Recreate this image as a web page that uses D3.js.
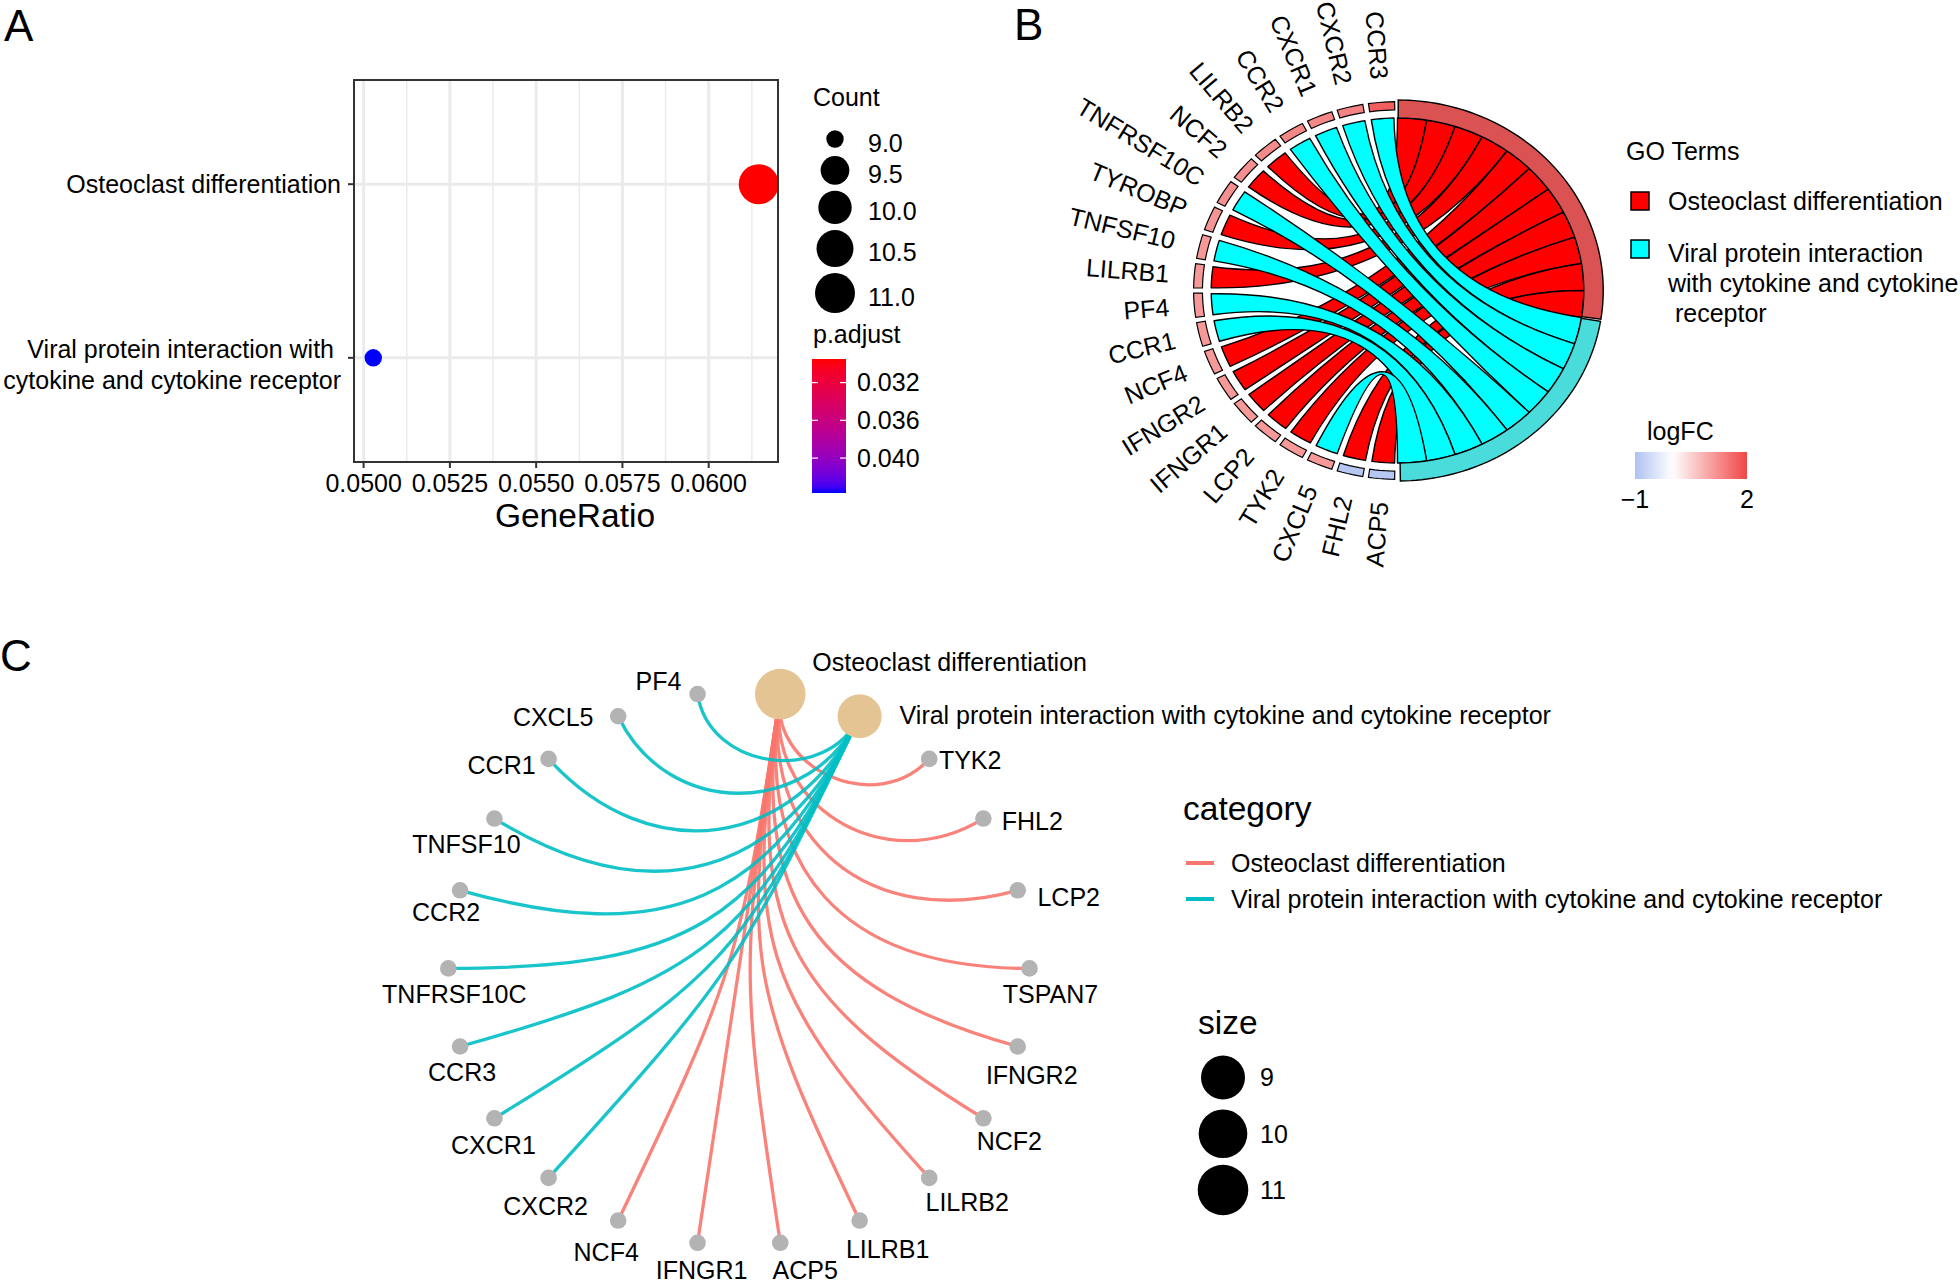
<!DOCTYPE html>
<html><head><meta charset="utf-8">
<script src="https://cdn.jsdelivr.net/npm/d3@7"></script>
<style>
body{margin:0;background:#fff}
svg{display:block}
text{font-family:"Liberation Sans",Arial,sans-serif;fill:#000}
</style>
</head><body>
<svg id="fig" width="1960" height="1286"></svg>
<script>
// ===================== DATA =====================
// Panel A (KEGG dot plot)
const termNames = ["Osteoclast differentiation", "Viral protein interaction with cytokine and cytokine receptor"];
const termLabelLines = [["Osteoclast differentiation"], ["Viral protein interaction with", "cytokine and cytokine receptor"]];
const geneRatios = [0.06145, 0.05028];
const termCounts = [11, 9];
const termPadj = [0.0295, 0.0437];
const ratioTicks = [0.0500, 0.0525, 0.0550, 0.0575, 0.0600];
const ratioTickLabels = ["0.0500", "0.0525", "0.0550", "0.0575", "0.0600"];
const countLegendValues = [9.0, 9.5, 10.0, 10.5, 11.0];
const countLegendLabels = ["9.0", "9.5", "10.0", "10.5", "11.0"];
const padjTicks = [0.032, 0.036, 0.040];
const padjTickLabels = ["0.032", "0.036", "0.040"];

// Panel B (GO chord)
const chordGenes = ["CCR3","CXCR2","CXCR1","CCR2","LILRB2","NCF2","TNFRSF10C","TYROBP","TNFSF10","LILRB1","PF4","CCR1","NCF4","IFNGR2","IFNGR1","LCP2","TYK2","CXCL5","FHL2","ACP5"];
const chordGeneTerm = [1,1,1,1,0,0,1,0,1,0,1,1,0,0,0,0,0,1,0,0]; // 0 = Osteoclast, 1 = Viral
const chordLogFC = [1.75,1.35,1.3,1.3,1.25,1.2,1.2,1.15,1.1,1.1,1.1,1.1,1.1,1.1,1.1,1.1,1.1,1.1,-0.9,-0.9];
const chordTermLegend = ["Osteoclast differentiation", "Viral protein interaction", "with cytokine and cytokine", " receptor"];
const lfcLegendTicks = [-1, 2];

// Panel C (cnetplot, circular layout order)
const cnetNodes = ["Osteoclast differentiation","Viral protein interaction with cytokine and cytokine receptor",
  "TYK2","FHL2","LCP2","TSPAN7","IFNGR2","NCF2","LILRB2","LILRB1","ACP5","IFNGR1","NCF4",
  "CXCR2","CXCR1","CCR3","TNFRSF10C","CCR2","TNFSF10","CCR1","CXCL5","PF4"];
const osteoGenes = ["TYK2","FHL2","LCP2","TSPAN7","IFNGR2","NCF2","LILRB2","LILRB1","ACP5","IFNGR1","NCF4"];
const viralGenes = ["PF4","CXCL5","CCR1","TNFSF10","CCR2","TNFRSF10C","CCR3","CXCR1","CXCR2"];
const hubSizes = [11, 9];
const sizeLegendValues = [9, 10, 11];
const categoryLegend = ["Osteoclast differentiation", "Viral protein interaction with cytokine and cytokine receptor"];

// ===================== LAYOUT / STYLE =====================
const FONT = 25;
const TITLE = 33.5;
const svg = d3.select("#fig");
const defs = svg.append("defs");

svg.append("text").attr("x", 4).attr("y", 41).attr("font-size", 44).text("A");
svg.append("text").attr("x", 1014).attr("y", 40).attr("font-size", 44).text("B");
svg.append("text").attr("x", 0).attr("y", 671).attr("font-size", 44).text("C");

// ---------------- Panel A ----------------
(function panelA(){
  const P = {x0:354, x1:778, y0:80, y1:462};
  const ext = d3.extent(geneRatios), pad = (ext[1]-ext[0])*0.05;
  const x = d3.scaleLinear().domain([ext[0]-pad, ext[1]+pad]).range([P.x0, P.x1]);
  const y = d3.scalePoint().domain(termNames).range([P.y0, P.y1]).padding(0.6);
  const col = d3.scaleLinear().domain(d3.extent(termPadj)).range(["#FF0000","#0000FF"]).interpolate(d3.interpolateLab);
  const tScale = d3.scaleLinear().domain([9, 11]).range([0, 1]);
  const rCount = v => (17.4 + 22.6*Math.sqrt(Math.max(0, tScale(v))))/2;

  const g = svg.append("g");
  g.append("rect").attr("x",P.x0).attr("y",P.y0).attr("width",P.x1-P.x0).attr("height",P.y1-P.y0).attr("fill","#fff");
  const step = ratioTicks[1]-ratioTicks[0];
  const minor = [];
  for (let i=-1;i<ratioTicks.length;i++){ const v = ratioTicks[0]+step*(i+0.5); const [a,b]=x.domain(); if(v>a&&v<b) minor.push(v); }
  g.selectAll(".minor").data(minor).join("line").attr("x1",d=>x(d)).attr("x2",d=>x(d)).attr("y1",P.y0).attr("y2",P.y1)
    .attr("stroke","#EBEBEB").attr("stroke-width",1.5);
  g.selectAll(".major").data(ratioTicks).join("line").attr("x1",d=>x(d)).attr("x2",d=>x(d)).attr("y1",P.y0).attr("y2",P.y1)
    .attr("stroke","#EBEBEB").attr("stroke-width",3);
  g.selectAll(".hmajor").data(termNames).join("line").attr("x1",P.x0).attr("x2",P.x1).attr("y1",d=>y(d)).attr("y2",d=>y(d))
    .attr("stroke","#EBEBEB").attr("stroke-width",3);
  g.selectAll(".pt").data(termNames).join("circle")
    .attr("cx",(d,i)=>x(geneRatios[i])).attr("cy",d=>y(d)).attr("r",(d,i)=>rCount(termCounts[i]))
    .attr("fill",(d,i)=>col(termPadj[i]));
  g.append("rect").attr("x",P.x0).attr("y",P.y0).attr("width",P.x1-P.x0).attr("height",P.y1-P.y0)
    .attr("fill","none").attr("stroke","#333").attr("stroke-width",2);
  g.selectAll(".xt").data(ratioTicks).join("line").attr("x1",d=>x(d)).attr("x2",d=>x(d)).attr("y1",P.y1).attr("y2",P.y1+6)
    .attr("stroke","#333").attr("stroke-width",2);
  g.selectAll(".xl").data(ratioTicks).join("text").attr("x",d=>x(d)).attr("y",492).attr("text-anchor","middle")
    .attr("font-size",FONT).attr("fill","#1a1a1a").text((d,i)=>ratioTickLabels[i]);
  g.append("text").attr("x",575).attr("y",527).attr("text-anchor","middle").attr("font-size",TITLE).text("GeneRatio");
  g.selectAll(".yt").data(termNames).join("line").attr("x1",P.x0-6).attr("x2",P.x0).attr("y1",d=>y(d)).attr("y2",d=>y(d))
    .attr("stroke","#333").attr("stroke-width",2);
  termNames.forEach((t,i)=>{
    const lines = termLabelLines[i];
    const lh = 31, y0 = y(t) + 0.35*FONT - (lines.length-1)*lh/2 + (lines.length>1?7:0);
    lines.forEach((ln,j)=>{
      g.append("text").attr("x", (lines.length>1 && j===0) ? 334 : 341).attr("y", y0 + j*lh)
        .attr("text-anchor","end").attr("font-size",FONT).attr("fill","#1a1a1a").text(ln);
    });
  });
  // legend: Count
  g.append("text").attr("x",813).attr("y",106).attr("font-size",FONT).text("Count");
  let top = 125; const keys = [];
  countLegendValues.forEach(v=>{ const h = Math.max(2*rCount(v)+6, 28); keys.push(top+h/2); top += h; });
  g.selectAll(".ck").data(countLegendValues).join("circle").attr("cx",835).attr("cy",(d,i)=>keys[i]).attr("r",d=>rCount(d)).attr("fill","#000");
  g.selectAll(".cl").data(countLegendValues).join("text").attr("x",868).attr("y",(d,i)=>keys[i]+4+0.35*FONT)
    .attr("font-size",FONT).text((d,i)=>countLegendLabels[i]);
  // legend: p.adjust
  g.append("text").attr("x",813).attr("y",343).attr("font-size",FONT).text("p.adjust");
  const cb = {x:812, w:34, y0:359, y1:493};
  const grad = defs.append("linearGradient").attr("id","padjGrad").attr("x1",0).attr("x2",0).attr("y1",0).attr("y2",1);
  d3.range(0,1.0001,0.05).forEach(t=>{
    const v = termPadj[0] + t*(termPadj[1]-termPadj[0]);
    grad.append("stop").attr("offset",t).attr("stop-color",col(v));
  });
  g.append("rect").attr("x",cb.x).attr("y",cb.y0).attr("width",cb.w).attr("height",cb.y1-cb.y0).attr("fill","url(#padjGrad)");
  const yp = d3.scaleLinear().domain(d3.extent(termPadj)).range([cb.y0, cb.y1]);
  padjTicks.forEach(v=>{
    g.append("line").attr("x1",cb.x).attr("x2",cb.x+6).attr("y1",yp(v)).attr("y2",yp(v)).attr("stroke","#fff").attr("stroke-width",1.2);
    g.append("line").attr("x1",cb.x+cb.w-6).attr("x2",cb.x+cb.w).attr("y1",yp(v)).attr("y2",yp(v)).attr("stroke","#fff").attr("stroke-width",1.2);
  });
  g.selectAll(".pl").data(padjTicks).join("text").attr("x",857).attr("y",d=>yp(d)+0.35*FONT).attr("font-size",FONT)
    .text((d,i)=>padjTickLabels[i]);
})();

// ---------------- Panel B ----------------
(function panelB(){
  const B = {cx:1397.5, cy:290.5, sx:1.08, rTermOut:190.5, rTermIn:172.5, rGeneOut:188.8, rGeneIn:180.6, rRib:172.5, rLab:212};
  const n = chordGenes.length;
  const geneAng = d3.scaleLinear().domain([0, n]).range([90, 270]);
  const termAng = d3.scaleLinear().domain([0, n]).range([90, -90]);
  const lfcCol = d3.scaleLinear().domain([-1, 0, 2]).range(["#AEC1F2","#FFFFFF","#F04646"]);
  const termFill = ["#DB5252", "#4ADCDA"];
  const ribbonFill = ["#FF0000", "#00FFFF"];
  const rad = a => a*Math.PI/180;
  const pt = (r,a) => [B.cx + B.sx*r*Math.cos(rad(a)), B.cy - r*Math.sin(rad(a))];
  const arcPts = (r,a0,a1) => { const k = Math.max(2, Math.ceil(Math.abs(a1-a0)/1.5)); return d3.range(k+1).map(i=>pt(r, a0+(a1-a0)*i/k)); };
  function sector(r0,r1,a0,a1){
    const p = d3.path(); const o = arcPts(r1,a0,a1), inn = arcPts(r0,a1,a0);
    p.moveTo(...o[0]); o.slice(1).forEach(q=>p.lineTo(...q)); inn.forEach(q=>p.lineTo(...q)); p.closePath(); return p.toString();
  }
  function ribbon(g0,g1,t0,t1){
    const p = d3.path(); const s = arcPts(B.rRib,g0,g1), t = arcPts(B.rRib,t0,t1);
    p.moveTo(...s[0]); s.slice(1).forEach(q=>p.lineTo(...q));
    p.quadraticCurveTo(B.cx,B.cy,...t[0]); t.slice(1).forEach(q=>p.lineTo(...q));
    p.quadraticCurveTo(B.cx,B.cy,...s[0]); p.closePath(); return p.toString();
  }
  const order = [];
  [0,1].forEach(tm=>chordGenes.forEach((gname,i)=>{ if(chordGeneTerm[i]===tm) order.push(i); }));
  const slotOf = {}; order.forEach((gi,s)=>slotOf[gi]=s);
  const nOst = chordGeneTerm.filter(v=>v===0).length;
  const g = svg.append("g");
  [0,1].forEach(tm=>{
    chordGenes.forEach((gname,i)=>{
      if(chordGeneTerm[i]!==tm) return;
      const s = slotOf[i];
      const tHi = termAng(s), tLo = termAng(s+1);
      g.append("path").attr("d", ribbon(geneAng(i)+1.1, geneAng(i+1)-0.9, tLo, tHi))
        .attr("fill", ribbonFill[tm]).attr("stroke","#000").attr("stroke-width",1.4).attr("stroke-linejoin","round");
    });
  });
  chordGenes.forEach((gname,i)=>{
    g.append("path").attr("d", sector(B.rGeneIn,B.rGeneOut,geneAng(i)+0.8,geneAng(i+1)-0.8))
      .attr("fill", lfcCol(chordLogFC[i])).attr("stroke","#000").attr("stroke-width",1.2);
  });
  g.append("path").attr("d", sector(B.rTermIn,B.rTermOut,termAng(nOst)+0.3,termAng(0)-0.2))
    .attr("fill",termFill[0]).attr("stroke","#000").attr("stroke-width",1.4);
  g.append("path").attr("d", sector(B.rTermIn,B.rTermOut,termAng(n)+0.8,termAng(nOst)-0.3))
    .attr("fill",termFill[1]).attr("stroke","#000").attr("stroke-width",1.4);
  chordGenes.forEach((gname,i)=>{
    const a = (geneAng(i)+geneAng(i+1))/2; const [px,py] = pt(B.rLab, a);
    g.append("text").attr("transform",`translate(${px},${py}) rotate(${180-a})`).attr("text-anchor","end")
      .attr("dy","0.35em").attr("font-size",FONT).text(gname);
  });
  g.append("text").attr("x",1626).attr("y",160).attr("font-size",FONT).text("GO Terms");
  g.append("rect").attr("x",1631).attr("y",192).attr("width",18).attr("height",18).attr("fill",ribbonFill[0]).attr("stroke","#000").attr("stroke-width",1.5);
  g.append("rect").attr("x",1631).attr("y",240).attr("width",18).attr("height",18).attr("fill",ribbonFill[1]).attr("stroke","#000").attr("stroke-width",1.5);
  g.append("text").attr("x",1668).attr("y",210).attr("font-size",FONT).text(chordTermLegend[0]);
  [262,292,322].forEach((yy,j)=>{
    g.append("text").attr("x",1668).attr("y",yy).attr("font-size",FONT).attr("xml:space","preserve").text(chordTermLegend[j+1]);
  });
  g.append("text").attr("x",1647).attr("y",440).attr("font-size",FONT).text("logFC");
  const lx = d3.scaleLinear().domain(lfcLegendTicks).range([1635, 1747]);
  const lg = defs.append("linearGradient").attr("id","lfcGrad").attr("x1",0).attr("x2",1).attr("y1",0).attr("y2",0);
  d3.range(0,1.0001,0.05).forEach(t=>lg.append("stop").attr("offset",t).attr("stop-color",lfcCol(lx.invert(1635+t*112))));
  g.append("rect").attr("x",1635).attr("y",452).attr("width",112).attr("height",27).attr("fill","url(#lfcGrad)");
  g.selectAll(".lt").data(lfcLegendTicks).join("text").attr("x",d=>lx(d)).attr("y",508).attr("text-anchor","middle")
    .attr("font-size",FONT).text(d=>d<0?"\u2212"+Math.abs(d):String(d));
})();

// ---------------- Panel C ----------------
// label placement offsets (text centre x, baseline y) relative to each node, mimicking the ggrepel result
const cnetLabelNudge = {
  "PF4":[-39,-4], "CXCL5":[-65,10], "CCR1":[-47,15], "TNFSF10":[-28,34], "CCR2":[-14,31],
  "TNFRSF10C":[6,35], "CCR3":[2,35], "CXCR1":[-1,36], "CXCR2":[-3,37], "NCF4":[-12,40],
  "IFNGR1":[4,36], "ACP5":[25,36], "LILRB1":[28,37], "LILRB2":[38,33], "NCF2":[26,32],
  "IFNGR2":[14,38], "TSPAN7":[21,35], "LCP2":[51,16], "FHL2":[49,11], "TYK2":[41,10]
};
(function panelC(){
  const C = {cx:738.9, cy:968.4, rx:290.6, ry:277.2};
  const nN = cnetNodes.length;
  const ang = d3.scaleLinear().domain([-0.5, nN-0.5]).range([90, 90-360]);
  const xC = d3.scaleLinear().domain([-1,1]).range([C.cx-C.rx, C.cx+C.rx]);
  const yC = d3.scaleLinear().domain([-1,1]).range([C.cy+C.ry, C.cy-C.ry]);
  const unit = k => { const a = ang(k)*Math.PI/180; return [Math.cos(a), Math.sin(a)]; };
  const idx = name => cnetNodes.indexOf(name);
  const catColors = ["#F8766D", "#00BFC4"];
  const tS = d3.scaleLinear().domain([9, 11]).range([0, 1]);
  const rHub = v => 22 + 3.3*Math.sqrt(Math.max(0,tS(v)));
  function edge(kh, kg){
    const p0 = unit(kh), p3 = unit(kg);
    const dist = Math.hypot(p0[0]-p3[0], p0[1]-p3[1]);
    const rho = 1 - 0.49*dist;
    const p = d3.path();
    p.moveTo(xC(p0[0]), yC(p0[1]));
    p.bezierCurveTo(xC(p0[0]*rho), yC(p0[1]*rho), xC(p3[0]*rho), yC(p3[1]*rho), xC(p3[0]), yC(p3[1]));
    return p.toString();
  }
  const g = svg.append("g");
  [osteoGenes, viralGenes].forEach((lst,c)=>{
    lst.forEach(gn=>{
      g.append("path").attr("d", edge(c, idx(gn))).attr("fill","none").attr("stroke",catColors[c])
        .attr("stroke-width",3.3).attr("stroke-opacity",0.9);
    });
  });
  cnetNodes.forEach((nm,k)=>{
    if (k < 2) return;
    const u = unit(k);
    g.append("circle").attr("cx",xC(u[0])).attr("cy",yC(u[1])).attr("r",8.3).attr("fill","#B3B3B3");
    const nd = cnetLabelNudge[nm] || [0,30];
    g.append("text").attr("x",xC(u[0])+nd[0]).attr("y",yC(u[1])+nd[1]).attr("text-anchor","middle").attr("font-size",FONT).text(nm);
  });
  const hubLabelNudge = [[32,-23],[40,8]];
  [0,1].forEach(k=>{
    const u = unit(k);
    g.append("circle").attr("cx",xC(u[0])).attr("cy",yC(u[1])).attr("r",rHub(hubSizes[k])).attr("fill","#E5C494");
    g.append("text").attr("x",xC(u[0])+hubLabelNudge[k][0]).attr("y",yC(u[1])+hubLabelNudge[k][1]).attr("font-size",FONT).text(cnetNodes[k]);
  });
  g.append("text").attr("x",1183).attr("y",820).attr("font-size",TITLE).text("category");
  categoryLegend.forEach((t,i)=>{
    const yy = 863 + i*36;
    g.append("line").attr("x1",1186).attr("x2",1214).attr("y1",yy).attr("y2",yy).attr("stroke",catColors[i]).attr("stroke-width",4);
    g.append("text").attr("x",1231).attr("y",yy+0.35*FONT).attr("font-size",FONT).text(t);
  });
  g.append("text").attr("x",1198).attr("y",1034).attr("font-size",TITLE).text("size");
  const ys = d3.scaleLinear().domain([9,11]).range([1077.5,1190]);
  sizeLegendValues.forEach(v=>{
    g.append("circle").attr("cx",1223).attr("cy",ys(v)).attr("r",rHub(v)).attr("fill","#000");
    g.append("text").attr("x",1260).attr("y",ys(v)+0.35*FONT).attr("font-size",FONT).text(String(v));
  });
})();
</script>
</body></html>
